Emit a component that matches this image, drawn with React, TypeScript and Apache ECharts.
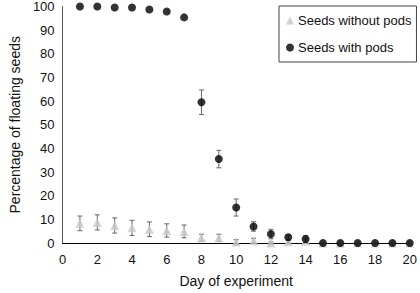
import React, { useEffect, useRef } from "react";
import * as echarts from "echarts";

const days = [1, 2, 3, 4, 5, 6, 7, 8, 9, 10, 11, 12, 13, 14, 15, 16, 17, 18, 19, 20];
const withoutPods = [8.3, 8.7, 7.4, 6.4, 5.8, 5.3, 4.9, 2.2, 2.2, 0.4, 1, 0, 0.5, 0.8, 0, 0, 0, 0, 0, 0];
const withoutPodsErr = [3.1, 3.2, 3.2, 3.2, 3.1, 2.8, 2.7, 1.5, 1.5, 1, 1, 0.5, 0.5, 1, 0, 0, 0, 0, 0, 0];
const withPods = [100, 100, 99.6, 99.6, 98.7, 97.9, 95.4, 59.5, 35.5, 15, 7, 3.8, 2.4, 1.7, 0, 0, 0, 0, 0, 0];
const withPodsErr = [0, 0, 0, 0, 0, 0, 0, 5.2, 3.7, 3.6, 2, 2, 1, 1.5, 0, 0, 0, 0, 0, 0];
const seriesNames = ["Seeds without pods", "Seeds with pods"];

const FONT = "Liberation Sans, Arial, Helvetica, sans-serif";

function errData(vals: number[], errs: number[]) {
  return days
    .map((d, i) => [d, vals[i] - errs[i], vals[i] + errs[i]])
    .filter((_, i) => errs[i] > 0);
}

function errRender(params: any, api: any) {
  const x = api.value(0);
  const lo = api.coord([x, api.value(1)]);
  const hi = api.coord([x, api.value(2)]);
  const cap = 2.5;
  const style = { stroke: "#666", lineWidth: 1 };
  return {
    type: "group",
    children: [
      { type: "line", shape: { x1: lo[0], y1: lo[1], x2: hi[0], y2: hi[1] }, style },
      { type: "line", shape: { x1: lo[0] - cap, y1: lo[1], x2: lo[0] + cap, y2: lo[1] }, style },
      { type: "line", shape: { x1: hi[0] - cap, y1: hi[1], x2: hi[0] + cap, y2: hi[1] }, style },
    ],
  };
}

export default function App() {
  const ref = useRef<HTMLDivElement>(null);
  useEffect(() => {
    const chart = echarts.init(ref.current!, null, { renderer: "svg" });
    chart.setOption({
      animation: false,
      textStyle: { fontFamily: FONT },
      grid: { left: 53, right: 8, top: 6, bottom: 46 },
      legend: {
        orient: "vertical",
        left: 279,
        top: 6,
        itemWidth: 8,
        itemHeight: 8,
        itemGap: 14,
        padding: [8, 5, 8, 7],
        borderColor: "#444",
        borderWidth: 1,
        textStyle: { fontFamily: FONT, fontSize: 13, color: "#111", padding: [0, 0, 0, -1] },
        data: [
          { name: seriesNames[0], icon: "triangle" },
          { name: seriesNames[1], icon: "circle" },
        ],
      },
      xAxis: {
        type: "value",
        min: 0,
        max: 20,
        interval: 2,
        name: "Day of experiment",
        nameLocation: "middle",
        nameGap: 31,
        nameTextStyle: { fontFamily: FONT, fontSize: 14, color: "#111" },
        axisLine: { show: true, lineStyle: { color: "#000", width: 1 } },
        axisTick: { show: false },
        splitLine: { show: false },
        axisLabel: { fontFamily: FONT, fontSize: 13, color: "#111", margin: 10 },
      },
      yAxis: {
        type: "value",
        min: 0,
        max: 100,
        interval: 10,
        name: "Percentage of floating seeds",
        nameLocation: "middle",
        nameGap: 38,
        nameTextStyle: { fontFamily: FONT, fontSize: 14, color: "#111" },
        axisLine: { show: true, lineStyle: { color: "#555", width: 1 } },
        axisTick: { show: false },
        splitLine: { show: false },
        axisLabel: { fontFamily: FONT, fontSize: 13, color: "#111", margin: 8 },
      },
      series: [
        {
          type: "custom",
          renderItem: errRender,
          data: errData(withoutPods, withoutPodsErr),
          z: 1,
          silent: true,
        },
        {
          name: seriesNames[0],
          type: "scatter",
          symbol: "triangle",
          symbolSize: 9,
          itemStyle: { color: "#c8c8c8" },
          data: days.map((d, i) => [d, withoutPods[i]]),
          z: 2,
        },
        {
          type: "custom",
          renderItem: errRender,
          data: errData(withPods, withPodsErr),
          z: 3,
          silent: true,
        },
        {
          name: seriesNames[1],
          type: "scatter",
          symbol: "circle",
          symbolSize: 8,
          itemStyle: { color: "#000" },
          data: days.map((d, i) => [d, withPods[i]]),
          z: 4,
        },
      ],
    });
    return () => chart.dispose();
  }, []);
  return <div ref={ref} style={{ width: 420, height: 293, position: "absolute", left: 0, top: 0 }} />;
}
